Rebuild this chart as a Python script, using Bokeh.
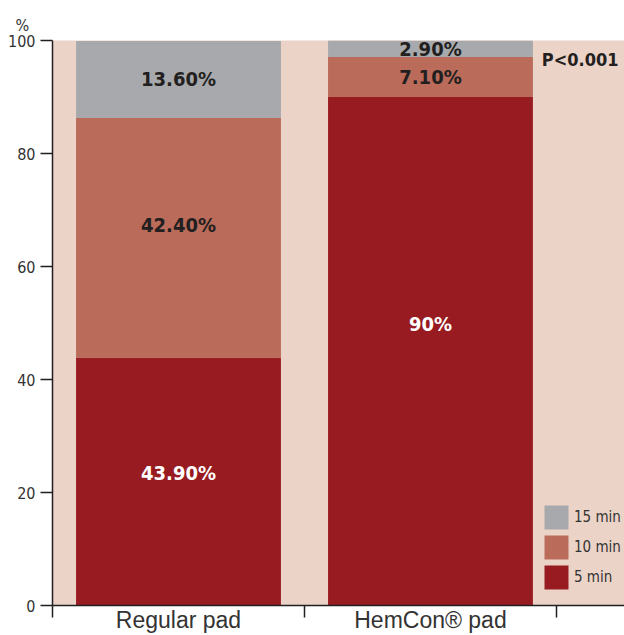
from bokeh.plotting import figure
from bokeh.models import ColumnDataSource, FixedTicker, Legend, LegendItem, Label, Title
from bokeh.core.properties import value
from bokeh.embed import file_html
from bokeh.resources import INLINE

# ---- data ----
categories = ["Regular pad", "HemCon\u00ae pad"]
series_names = ["5 min", "10 min", "15 min"]
five_min = [43.9, 90.0]
ten_min = [42.4, 7.1]
fifteen_min = [13.6, 2.9]
five_min_text = ["43.90%", "90%"]
ten_min_text = ["42.40%", "7.10%"]
fifteen_min_text = ["13.60%", "2.90%"]
y_ticks = [0, 20, 40, 60, 80, 100]
p_value_text = "P<0.001"

# ---- style ----
colors = ["#971B20", "#BA6B59", "#A7A9AC"]
text_colors = ["#FFFFFF", "#231F20", "#231F20"]
label_nudge = [[1.5, 4.9], [2.2, 0.0], [0.0, 0.0]]  # small vertical nudges (style)
BG = "#EBD3C8"
DARK = "#231F20"
COND = "DejaVu Sans Condensed"

xs = [i + 0.5 for i in range(len(categories))]

p = figure(width=624, height=635, output_backend="svg", toolbar_location=None,
           x_range=(0, 2.27), y_range=(0, 100),
           min_border_left=52, min_border_right=0, min_border_top=40, min_border_bottom=25)
p.background_fill_color = BG
p.border_fill_color = "white"
p.outline_line_color = None
p.xgrid.visible = False
p.ygrid.visible = False

source = ColumnDataSource(dict(x=xs, **{"5 min": five_min, "10 min": ten_min, "15 min": fifteen_min}))
rends = p.vbar_stack(series_names, x="x", width=0.813, color=colors, line_color=None, source=source)

# value labels
stacks = [five_min, ten_min, fifteen_min]
texts = [five_min_text, ten_min_text, fifteen_min_text]
lx, ly, lt, lc = [], [], [], []
for j in range(len(categories)):
    bottom = 0.0
    for k in range(len(stacks)):
        v = stacks[k][j]
        lx.append(xs[j])
        ly.append(bottom + v / 2 + label_nudge[k][j])
        lt.append(texts[k][j])
        lc.append(text_colors[k])
        bottom += v
lsrc = ColumnDataSource(dict(x=lx, y=ly, t=lt, c=lc))
p.text(x="x", y="y", text="t", text_color="c", source=lsrc, text_font=value(COND),
       text_font_style="bold", text_font_size="20px", text_align="center", text_baseline="middle")

# P value
p.add_layout(Label(x=2.246, y=96.6, text=p_value_text, text_font=COND, text_font_style="bold",
                   text_font_size="18px", text_color=DARK, text_align="right", text_baseline="middle"))

# y axis
ya = p.yaxis[0]
ya.ticker = FixedTicker(ticks=y_ticks)
ya.major_tick_out = 12
ya.major_tick_in = 0
ya.minor_tick_out = 0
ya.minor_tick_in = 0
ya.axis_line_color = DARK
ya.axis_line_width = 1.5
ya.major_tick_line_color = DARK
ya.major_tick_line_width = 1.5
ya.major_label_text_font = COND
ya.major_label_text_font_size = "16px"
ya.major_label_text_color = "#333333"
ya.major_label_standoff = 5

# x axis: labels at bar centres, tick marks at category boundaries
xa = p.xaxis[0]
xa.ticker = FixedTicker(ticks=xs, minor_ticks=[0, 1, 2])
xa.major_label_overrides = {xs[i]: categories[i] for i in range(len(categories))}
xa.major_tick_out = 0
xa.major_tick_in = 0
xa.minor_tick_out = 12
xa.minor_tick_in = 0
xa.minor_tick_line_color = DARK
xa.minor_tick_line_width = 1.5
xa.axis_line_color = DARK
xa.axis_line_width = 1.5
xa.major_label_text_font = "Liberation Sans"
xa.major_label_text_font_size = "23px"
xa.major_label_text_color = "#333333"
xa.major_label_standoff = -11

# "%" unit title
t = Title(text="%", align="left", offset=-37, text_font=COND, text_font_size="16px",
          text_font_style="normal", text_color="#333333", standoff=12)
p.add_layout(t, "above")

# legend (15 min on top)
items = [LegendItem(label=series_names[k], renderers=[rends[k]]) for k in [2, 1, 0]]
leg = Legend(items=items, location=(489, 13), glyph_width=30, glyph_height=30,
             label_text_font=COND, label_text_font_size="15px", label_text_color="#333333",
             spacing=0, padding=0, margin=0, label_standoff=3,
             background_fill_alpha=0, border_line_color=None)
p.add_layout(leg)

open("out.html", "w").write(file_html(p, INLINE))
